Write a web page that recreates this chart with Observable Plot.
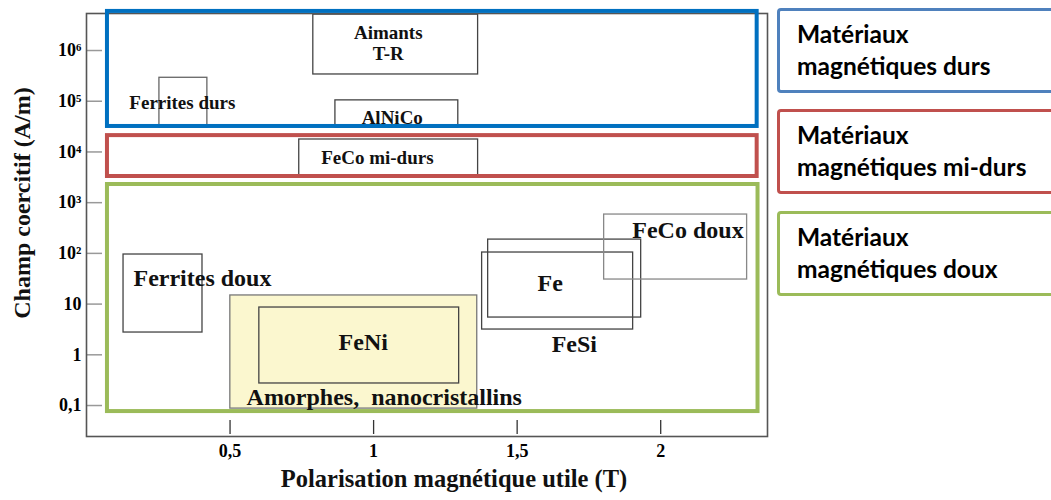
<!DOCTYPE html>
<html>
<head>
<meta charset="utf-8">
<script src="https://cdn.jsdelivr.net/npm/d3@7"></script>
<script src="https://cdn.jsdelivr.net/npm/@observablehq/plot@0.6"></script>
<style>
  html, body { margin: 0; padding: 0; background: #fff; }
  body { width: 1051px; height: 500px; overflow: hidden; position: relative; }
  #chart { position: absolute; left: 0; top: 0; }
  .leg { position: absolute; left: 777px; width: 300px; height: 85px; box-sizing: border-box;
         border: 3px solid; border-radius: 4px; font-family: Lato, "Open Sans", sans-serif;
         font-weight: bold; font-size: 24.5px; line-height: 32px; color: #000; padding: 7px 0 0 17px; }
</style>
</head>
<body>
<div id="chart"></div>
<div class="leg" style="top:8px;border-color:#4F81BD">Matériaux<br>magnétiques durs</div>
<div class="leg" style="top:109px;border-color:#C0504D">Matériaux<br>magnétiques mi-durs</div>
<div class="leg" style="top:211px;border-color:#9BBB59">Matériaux<br>magnétiques doux</div>
<script>
// ---- Data ----
const materials = ["Aimants T-R", "Ferrites durs", "AlNiCo", "FeCo mi-durs",
                   "Ferrites doux", "Amorphes, nanocristallins", "FeNi", "FeSi", "Fe", "FeCo doux"];
const jMin  = [0.790, 0.254, 0.867, 0.741, 0.129, 0.501, 0.602, 1.378, 1.399, 1.803];
const jMax  = [1.364, 0.421, 1.295, 1.364, 0.404, 1.361, 1.298, 1.904, 1.932, 2.301];
const hcMin = [3.37e5, 3.0e4, 3.0e4, 3.4e3, 2.75, 0.087, 0.272, 3.15, 5.43, 30.5];
const hcMax = [5.1e6, 2.9e5, 1.04e5, 1.76e4, 95, 14.8, 8.56, 104, 187, 583];

const labelText = ["Aimants\nT-R", "Ferrites durs", "AlNiCo", "FeCo mi-durs",
                   "Ferrites doux", "Amorphes,\u00a0 nanocristallins", "FeNi", "FeSi", "Fe", "FeCo doux"];
const labelJ  = [1.051, 0.334, 1.065, 1.013, 0.404, 1.037, 0.964, 1.699, 1.615, 2.095];
const labelHc = [1.41e6, 9.4e4, 4.8e4, 7.8e3, 33, 0.15, 1.83, 1.67, 26.6, 296];

const families = ["durs", "mi-durs", "doux"];
const famJMin  = [0.073, 0.073, 0.073];
const famJMax  = [2.336, 2.336, 2.339];
const famHcMin = [3.18e4, 3.28e3, 0.076];
const famHcMax = [5.9e6, 2.1e4, 2.28e3];

const xTicks = [0.5, 1, 1.5, 2];
const xTickLabels = ["0,5", "1", "1,5", "2"];
const yTicks = [0.1, 1, 10, 100, 1e3, 1e4, 1e5, 1e6];
const yTickLabels = ["0,1", "1", "10", "10²", "10³", "10⁴", "10⁵", "10⁶"];

// ---- Styles ----
const famColor = {"durs": "#0070C0", "mi-durs": "#C0504D", "doux": "#9BBB59"};
const boxStroke = i => (i === 9 ? "#888" : i === 1 ? "#666" : "#444");
const labelSize = i => (i < 4 ? 19 : 24);
const serif = "'Liberation Serif', 'Times New Roman', serif";

const idx = materials.map((_, i) => i);
const fidx = families.map((_, i) => i);
const amorphIdx = [5];
const boxIdx = idx.filter(i => i !== 5);

const W = 1051, H = 500, mL = 86, mR = 284, mT = 13, mB = 64;
const frameW = W - mL - mR, frameH = H - mT - mB;
const tickLen = 16;

const chart = Plot.plot({
  width: W,
  height: H,
  marginLeft: mL,
  marginRight: mR,
  marginTop: mT,
  marginBottom: mB,
  style: {fontFamily: serif, fontWeight: "bold", background: "transparent", color: "#000"},
  x: {domain: [0, 2.372], label: null},
  y: {type: "log", domain: [0.0245, 5.37e6], label: null},
  marks: [
    Plot.rect(amorphIdx, {x1: i => jMin[i], x2: i => jMax[i], y1: i => hcMin[i], y2: i => hcMax[i],
      fill: "#FBF7CF", stroke: "#777", strokeWidth: 1.3}),
    Plot.rect(boxIdx, {x1: i => jMin[i], x2: i => jMax[i], y1: i => hcMin[i], y2: i => hcMax[i],
      fill: "none", stroke: boxStroke, strokeWidth: 1.3}),
    // inward ticks
    Plot.ruleX(xTicks, {x: d => d, insetTop: frameH - tickLen, insetBottom: 2, stroke: "#333", strokeWidth: 1.3}),
    Plot.ruleY(yTicks, {y: d => d, insetRight: frameW - tickLen, stroke: "#999", strokeWidth: 1.5}),
    Plot.frame({stroke: "#555", strokeWidth: 1.6}),
    Plot.axisX(xTicks, {tickSize: 0, tickPadding: 8,
      tickFormat: d => xTickLabels[xTicks.indexOf(d)], fontSize: 18, fontWeight: "bold", label: null}),
    Plot.axisY(yTicks, {tickSize: 0, tickPadding: 5,
      tickFormat: d => yTickLabels[yTicks.indexOf(d)], fontSize: 18, fontWeight: "bold", label: null}),
    Plot.rect(fidx, {x1: i => famJMin[i], x2: i => famJMax[i], y1: i => famHcMin[i], y2: i => famHcMax[i],
      fill: "none", stroke: i => famColor[families[i]], strokeWidth: 4}),
    Plot.text(idx, {x: i => labelJ[i], y: i => labelHc[i], text: i => labelText[i],
      fontSize: labelSize, fontWeight: "bold", fill: "#111", lineHeight: 1.1, textAnchor: "middle"}),
    Plot.text(["Champ coercitif (A/m)"], {frameAnchor: "left", textAnchor: "middle", rotate: -90,
      dx: -64, dy: -22, fontSize: 24, fontWeight: "bold", fill: "#111"}),
    Plot.text(["Polarisation magnétique utile (T)"], {frameAnchor: "bottom", textAnchor: "middle",
      dx: 27, dy: 50, fontSize: 24.5, fontWeight: "bold", fill: "#111"})
  ]
});
document.getElementById("chart").appendChild(chart);
</script>
</body>
</html>
